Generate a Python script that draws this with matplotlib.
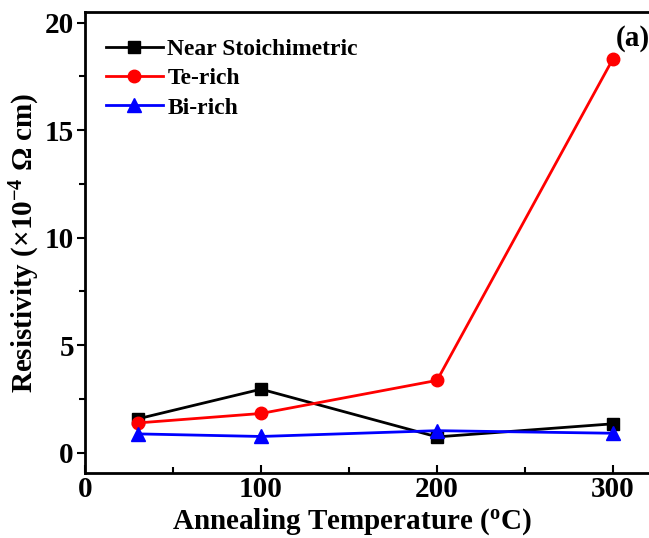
import matplotlib
matplotlib.use("Agg")
import matplotlib.pyplot as plt
from matplotlib.ticker import MultipleLocator

plt.rcParams['font.family'] = ['Liberation Serif', 'DejaVu Serif']
plt.rcParams['font.weight'] = 'bold'
plt.rcParams['mathtext.default'] = 'regular'

temps = [30, 100, 200, 300]
near_stoich = [1.57, 2.95, 0.73, 1.34]
te_rich = [1.38, 1.82, 3.36, 18.33]
bi_rich = [0.87, 0.75, 1.02, 0.9]

fig = plt.figure(figsize=(6.49, 5.38), dpi=100)
ax = fig.add_axes([0.131, 0.1208, 0.895, 0.8569])

ax.plot(temps, near_stoich, 'k-s', lw=2, ms=8, label='Near Stoichimetric')
ax.plot(temps, te_rich, '-o', color='red', lw=2, ms=9, label='Te-rich')
ax.plot(temps, bi_rich, '-^', color='blue', lw=2, ms=10, label='Bi-rich')

ax.set_xlim(0, 330)
ax.set_ylim(-0.95, 20.5)
ax.xaxis.set_major_locator(MultipleLocator(100))
ax.xaxis.set_minor_locator(MultipleLocator(50))
ax.yaxis.set_major_locator(MultipleLocator(5))
ax.yaxis.set_minor_locator(MultipleLocator(2.5))
ax.tick_params(axis='x', which='both', direction='in', labelsize=21, pad=2)
ax.tick_params(axis='x', which='major', length=6, width=1.5)
ax.tick_params(axis='x', which='minor', length=4, width=1.5)
ax.tick_params(axis='y', which='both', direction='out', labelsize=21, pad=2)
ax.tick_params(axis='y', which='major', length=6, width=1.5)
ax.tick_params(axis='y', which='minor', length=4, width=1.5)
for s in ax.spines.values():
    s.set_linewidth(2)
ax.spines['right'].set_visible(False)

ax.set_xlabel('Annealing Temperature ($^{o}$C)', fontsize=21, fontweight='bold')
ax.xaxis.set_label_coords(0.46, -0.072, transform=ax.transAxes)
ax.xaxis.label.set_va('top')
ax.set_ylabel('Resistivity (×10$^{-4}$ Ω cm)', fontsize=21, fontweight='bold', labelpad=2)

ax.legend(loc='upper left', bbox_to_anchor=(0.02, 0.963), frameon=False,
          handlelength=2.4, handletextpad=0.2, labelspacing=0.33, borderaxespad=0,
          prop={'weight': 'bold', 'size': 17})
ax.text(0.975, 0.915, '(a)', transform=fig.transFigure, fontsize=21,
        fontweight='bold', ha='center')

fig.savefig('out.png', dpi=100)
